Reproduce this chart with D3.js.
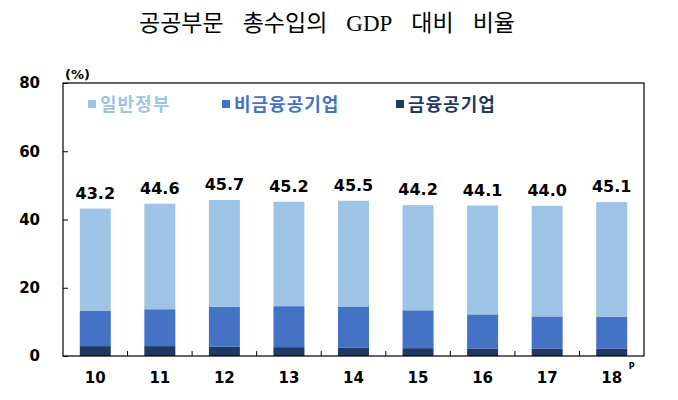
<!DOCTYPE html>
<html><head><meta charset="utf-8">
<script src="https://cdn.jsdelivr.net/npm/d3@7"></script>
<style>body{margin:0;background:#fff}svg{display:block}</style>
</head><body>
<script>
const categories = ["10","11","12","13","14","15","16","17","18"];
const seriesNames = ["금융공기업","비금융공기업","일반정부"];
const financial = [2.9,2.9,2.7,2.6,2.4,2.3,2.2,2.2,2.2];
const nonFinancial = [10.3,10.8,11.7,12.0,12.1,11.1,10.0,9.4,9.3];
const generalGov = [30.0,30.9,31.3,30.6,31.0,30.8,31.9,32.4,33.6];
const totals = ["43.2","44.6","45.7","45.2","45.5","44.2","44.1","44.0","45.1"];
const yTicks = [0,20,40,60,80];
const titleWords = ["공공부문","총수입의","GDP","대비","비율"];

const W=678,H=400;
const colors = {"금융공기업":"#1f3864","비금융공기업":"#4472c4","일반정부":"#9dc3e6"};
const svg = d3.select("body").append("svg").attr("width",W).attr("height",H);

const L=63,R=644,T=83,B=356;
const x = d3.scaleBand().domain(categories).range([L,R]).padding(0);
const y = d3.scaleLinear().domain([0,80]).range([B,T]);
const barW = x.bandwidth()*0.48;

const rows = categories.map((c,i)=>({cat:c,"금융공기업":financial[i],"비금융공기업":nonFinancial[i],"일반정부":generalGov[i]}));
const stack = d3.stack().keys(seriesNames)(rows);

// title: words laid out left to right with measured widths
const titleG = svg.append("g");
let tx = 135;
titleWords.forEach((w,i)=>{
  const t = titleG.append("text").attr("x",tx).attr("y",31)
    .attr("font-family","'Liberation Serif','Noto Sans CJK KR',serif").attr("font-size",23)
    .attr("fill","#000").text(w);
  tx += t.node().getComputedTextLength() + 19;
});
const tb = titleG.node().getBBox();
titleG.attr("transform",`translate(${327-(tb.x+tb.width/2)},0)`);

// bars
svg.append("g").selectAll("g").data(stack).join("g").attr("fill",d=>colors[d.key])
  .selectAll("rect").data(d=>d).join("rect")
  .attr("x",d=>x(d.data.cat)+(x.bandwidth()-barW)/2)
  .attr("width",barW)
  .attr("y",d=>y(d[1])).attr("height",d=>y(d[0])-y(d[1]));

// frame
svg.append("rect").attr("x",L).attr("y",T).attr("width",R-L).attr("height",B-T)
  .attr("fill","none").attr("stroke","#000").attr("stroke-width",1.2);

// y axis
const yAxis = d3.axisLeft(y).tickValues(yTicks).tickSize(-5).tickPadding(23);
const gy = svg.append("g").attr("transform",`translate(${L},0)`).call(yAxis);
gy.select(".domain").remove();
gy.selectAll("line").attr("stroke","#000");
gy.selectAll("text").attr("font-family","'DejaVu Sans',sans-serif").attr("font-weight","bold").attr("font-size",15).attr("fill","#000");

// x axis tick marks between categories
const gx = svg.append("g");
gx.selectAll("line").data(categories.slice(1)).join("line")
  .attr("x1",d=>x(d)).attr("x2",d=>x(d)).attr("y1",B).attr("y2",B-5).attr("stroke","#000");
gx.selectAll("text").data(categories).join("text")
  .attr("x",d=>x(d)+x.bandwidth()/2).attr("y",383).attr("text-anchor","middle")
  .attr("font-family","'DejaVu Sans',sans-serif").attr("font-weight","bold").attr("font-size",15).text(d=>d);
svg.append("text").attr("x",x("18")+x.bandwidth()/2+17).attr("y",369)
  .attr("font-family","'DejaVu Sans',sans-serif").attr("font-weight","bold").attr("font-size",8).text("P");

// value labels
svg.append("g").selectAll("text").data(rows).join("text")
  .attr("x",d=>x(d.cat)+x.bandwidth()/2)
  .attr("y",(d,i)=>y(+totals[i])-10).attr("text-anchor","middle")
  .attr("font-family","'DejaVu Sans',sans-serif").attr("font-weight","bold").attr("font-size",16)
  .text((d,i)=>totals[i]);

// unit
svg.append("text").attr("x",65).attr("y",79).attr("font-family","'DejaVu Sans',sans-serif")
  .attr("font-weight","bold").attr("font-size",13).text("(%)");

// legend
const legendItems = [{k:"일반정부",x:88},{k:"비금융공기업",x:222},{k:"금융공기업",x:396}];
const lg = svg.append("g");
legendItems.forEach(it=>{
  lg.append("rect").attr("x",it.x).attr("y",100).attr("width",8).attr("height",8).attr("fill",colors[it.k]);
  lg.append("text").attr("x",it.x+12).attr("y",111).attr("font-family","'Noto Sans CJK KR',sans-serif")
    .attr("font-weight","bold").attr("font-size",18).attr("letter-spacing",1).attr("fill",colors[it.k]).text(it.k);
});
</script>
</body></html>
